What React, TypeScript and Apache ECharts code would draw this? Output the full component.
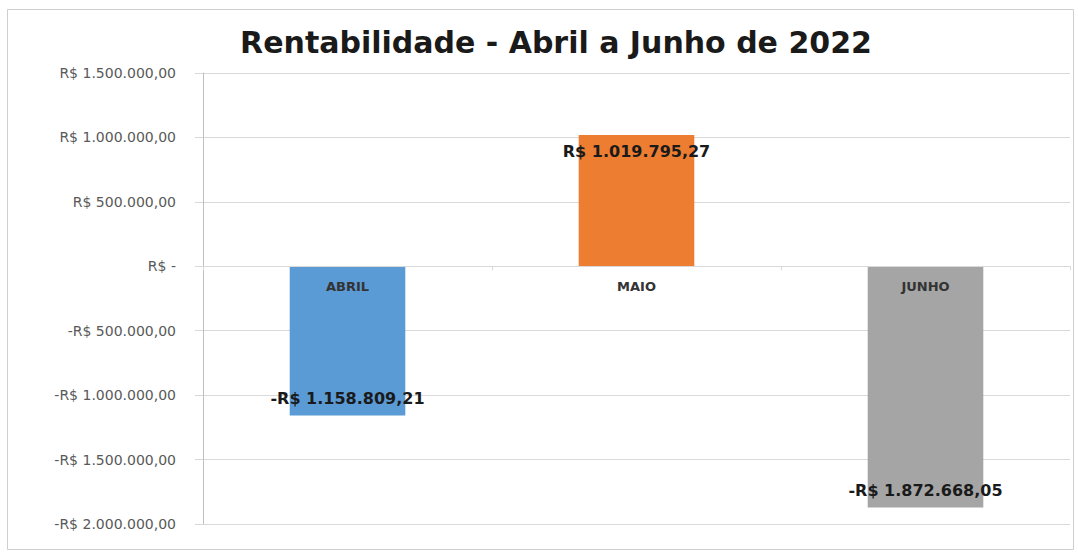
import React, { useEffect, useRef } from "react";
import * as echarts from "echarts";

const titleText = "Rentabilidade - Abril a Junho de 2022";
const categories = ["ABRIL", "MAIO", "JUNHO"];
const values = [-1158809.21, 1019795.27, -1872668.05];
const barColors = ["#5B9BD5", "#ED7D31", "#A5A5A5"];
const yMin = -2000000;
const yMax = 1500000;
const yStep = 500000;

function fmtNum(v: number, decimals: number): string {
  const abs = Math.abs(v);
  const fixed = abs.toFixed(decimals);
  const [intPart, dec] = fixed.split(".");
  const withDots = intPart.replace(/\B(?=(\d{3})+(?!\d))/g, ".");
  return dec !== undefined ? withDots + "," + dec : withDots;
}

function fmtBRL(v: number): string {
  if (Math.abs(v) < 0.005) return "R$ -";
  return (v < 0 ? "-" : "") + "R$ " + fmtNum(v, 2);
}

const GRID_TOP = 73;
const GRID_BOTTOM = 30;
const CHART_H = 554;

export default function App() {
  const ref = useRef<HTMLDivElement>(null);
  useEffect(() => {
    if (!ref.current) return;
    const chart = echarts.init(ref.current, undefined, { renderer: "svg" });
    const plotH = CHART_H - GRID_TOP - GRID_BOTTOM;
    const zeroFromBottom = ((0 - yMin) / (yMax - yMin)) * plotH;
    chart.setOption({
      animation: false,
      backgroundColor: "#ffffff",
      title: {
        text: titleText,
        left: 551,
        textAlign: "center",
        top: 22,
        textStyle: {
          fontFamily: "DejaVu Sans",
          fontWeight: "bold",
          fontSize: 30,
          color: "#1a1a1a",
        },
      },
      graphic: [
        {
          type: "rect",
          shape: { x: 7.5, y: 9.5, width: 1066, height: 540 },
          style: { fill: "none", stroke: "#cfcfcf", lineWidth: 1 },
          silent: true,
          z: -1,
        },
      ],
      grid: { left: 203, right: 8, top: GRID_TOP, bottom: GRID_BOTTOM, containLabel: false },
      xAxis: {
        type: "category",
        data: categories,
        position: "bottom",
        offset: -zeroFromBottom,
        z: 5,
        axisLine: { onZero: false, lineStyle: { color: "#d9d9d9" } },
        axisTick: { show: true, length: 4, lineStyle: { color: "#d9d9d9" } },
        axisLabel: {
          fontFamily: "DejaVu Sans",
          fontWeight: "bold",
          fontSize: 13,
          color: "#333333",
          margin: 14,
        },
      },
      yAxis: {
        type: "value",
        min: yMin,
        max: yMax,
        interval: yStep,
        axisLine: { show: true, lineStyle: { color: "#bfbfbf" } },
        axisTick: { show: true, length: 8, lineStyle: { color: "#d9d9d9" } },
        splitLine: { lineStyle: { color: "#d9d9d9" } },
        axisLabel: {
          formatter: (v: number) => fmtBRL(v),
          fontFamily: "DejaVu Sans",
          fontSize: 14,
          color: "#595959",
          margin: 27,
        },
      },
      series: [
        {
          type: "bar",
          barWidth: "40%",
          z: 2,
          data: values.map((v, i) => ({
            value: v,
            itemStyle: { color: barColors[i] },
            label: {
              show: true,
              position: v >= 0 ? "insideTop" : "insideBottom",
              distance: 9,
            },
          })),
          label: {
            show: true,
            formatter: (p: any) => fmtBRL(p.value),
            fontFamily: "DejaVu Sans",
            fontWeight: "bold",
            fontSize: 16,
            color: "#1a1a1a",
          },
        },
      ],
    });
    return () => chart.dispose();
  }, []);
  return (
    <div
      ref={ref}
      style={{ position: "fixed", left: 0, top: 0, width: 1078, height: 554 }}
    />
  );
}
